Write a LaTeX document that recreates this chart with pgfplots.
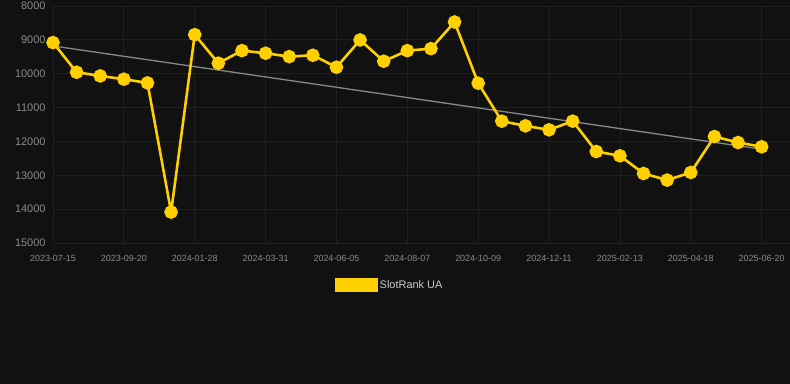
\documentclass[border=0pt]{standalone}
\usepackage{fontspec}
\setmainfont{Liberation Sans}
\usepackage{pgfplots}
\pgfplotsset{compat=1.18}
\definecolor{bg}{HTML}{111111}
\definecolor{gridc}{HTML}{1F1F1F}
\definecolor{tickc}{HTML}{8A8A8A}
\definecolor{lineY}{HTML}{FFD000}
\definecolor{trend}{HTML}{888888}
\definecolor{legc}{HTML}{CCCCCC}
\begin{document}
\begin{tikzpicture}
\fill[bg] (0,0) rectangle (790bp,384bp);
\useasboundingbox (0,0) rectangle (790bp,384bp);
\begin{axis}[
  at={(53bp,141bp)}, anchor=south west,
  scale only axis, width=737bp, height=237bp,
  xmin=0, xmax=31.2,
  ymin=8000, ymax=15000, y dir=reverse,
  axis line style={draw=none},
  grid=major, major grid style={gridc, line width=0.8pt},
  xtick={0,3,...,30},
  xticklabels={2023-07-15,2023-09-20,2024-01-28,2024-03-31,2024-06-05,2024-08-07,2024-10-09,2024-12-11,2025-02-13,2025-04-18,2025-06-20},
  ytick={8000,9000,...,15000},
  scaled y ticks=false,
  yticklabel style={font=\fontsize{11}{13}\selectfont, text=tickc, xshift=-4bp},
  xticklabel style={font=\fontsize{9}{10}\selectfont, text=tickc, yshift=-9bp},
  /pgf/number format/assume math mode=true,
  /pgf/number format/1000 sep={},
  tick style={draw=none},
  clip=false,
  legend style={at={(0.457,-0.177)}, anchor=center, draw=none, fill=none, text=legc, font=\fontsize{11}{13}\selectfont, legend cell align=left},
  legend image code/.code={\fill[lineY] (0bp,-6bp) rectangle (40bp,6bp);},
]
\addplot[trend, line width=1.3pt, forget plot] coordinates {(0,9180) (30,12230)};
\addplot[lineY, line width=2.6pt, mark=*, mark size=5.5bp, mark options={solid, fill=lineY, draw=none}] coordinates {
(0,9080) (1,9956) (2,10065) (3,10162) (4,10271) (5,14086) (6,8846) (7,9690) (8,9318) (9,9395)
(10,9495) (11,9455) (12,9808) (13,9003) (14,9631) (15,9318) (16,9259) (17,8472) (18,10280) (19,11401)
(20,11540) (21,11658) (22,11401) (23,12298) (24,12425) (25,12947) (26,13142) (27,12917) (28,11855) (29,12032)
(30,12159)};
\addlegendentry{SlotRank UA}
\end{axis}
\end{tikzpicture}
\end{document}
